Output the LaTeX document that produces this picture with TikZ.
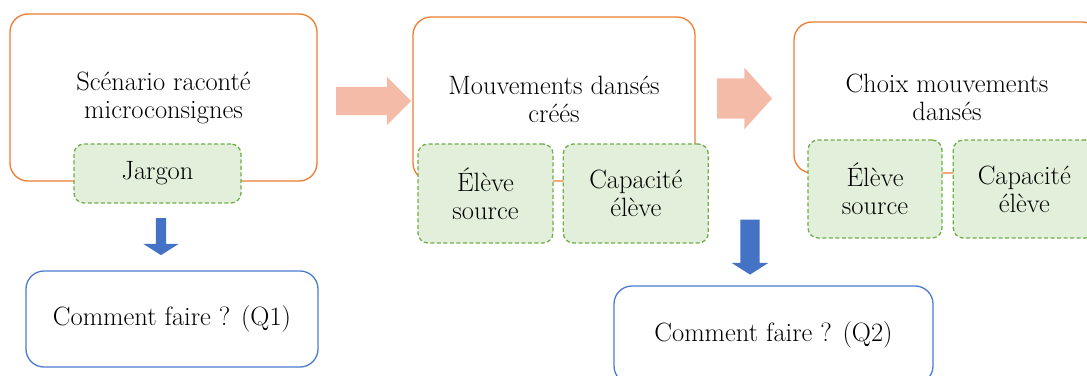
\documentclass[tikz,border=0pt]{standalone}
\usepackage{fontspec}
\usetikzlibrary{positioning, shapes.arrows}
\definecolor{stageOrange}{HTML}{ED7D31}
\definecolor{tagGreen}   {HTML}{70AD47}
\definecolor{tagFill}    {HTML}{E2EFDA}
\definecolor{askBlue}    {HTML}{4A7BD0}
\definecolor{downBlue}   {HTML}{4472C4}
\definecolor{flowPink}   {HTML}{F4BCA8}

\begin{document}
\begin{tikzpicture}[x=1pt, y=1pt,
    txt/.style={font=\rmfamily\fontsize{26.5}{28}\selectfont, align=center, text=black},
    stage/.style={txt, draw=stageOrange, line width=1.3pt, rounded corners=18pt},
    tag/.style={txt, draw=tagGreen, fill=tagFill, line width=1.3pt,
                dash pattern=on 4pt off 2.5pt, rounded corners=10pt, inner sep=0pt},
    ask/.style={txt, draw=askBlue, line width=1.3pt, rounded corners=18pt},
    flow/.style={single arrow, fill=flowPink, inner xsep=0pt, single arrow head indent=0pt},
    down/.style={single arrow, fill=downBlue, inner xsep=0pt, single arrow head indent=0pt,
                 single arrow tip angle=115, rotate=-90},
  ]
  \clip (0,0) rectangle (1087,-375);

  % stages
  \node[stage, minimum width=307pt, minimum height=167pt] (scenario) at (163.5,-97.5)
       {Scénario raconté\\microconsignes};
  \node[stage, minimum width=282pt, minimum height=164pt] (mouvements) at (554,-99)
       {Mouvements dansés\\créés};
  \node[stage, minimum width=306pt, minimum height=151pt] (choix) at (947,-97.5)
       {Choix mouvements\\dansés};

  % tags
  \node[tag, minimum width=167pt, minimum height=59pt] (jargon) at (157.5,-173.5) {Jargon};
  \node[tag, minimum width=135pt, minimum height=99pt] (eleveA) at (485.5,-193.5) {Élève\\source};
  \node[tag, minimum width=145pt, minimum height=99pt, right=9pt of eleveA] (capaA) {Capacité\\élève};
  \node[tag, minimum width=134pt, minimum height=98pt] (eleveB) at (875,-189) {Élève\\source};
  \node[tag, minimum width=142pt, minimum height=98pt, right=10pt of eleveB] (capaB) {Capacité\\élève};

  % questions
  \node[ask, minimum width=292pt, minimum height=96pt] (q1) at (172,-319) {Comment faire ? (Q1)};
  \node[ask, minimum width=319pt, minimum height=98pt] (q2) at (773.5,-335) {Comment faire ? (Q2)};

  % block arrows
  \node[flow, minimum height=75pt, inner ysep=14pt, single arrow head extend=10pt]
       (flowA) at (366.5,-101) {};
  \node[flow, minimum height=55pt, inner ysep=20pt, single arrow head extend=10.5pt,
        single arrow tip angle=96] (flowB) at (735.5,-98.5) {};
  \node[down, minimum height=37pt, inner ysep=5pt, single arrow head extend=12.5pt]
       (downA) at (161,-235) {};
  \node[down, minimum height=55pt, inner ysep=9.5pt, single arrow head extend=8.5pt]
       (downB) at (750,-244) {};
\end{tikzpicture}
\end{document}
